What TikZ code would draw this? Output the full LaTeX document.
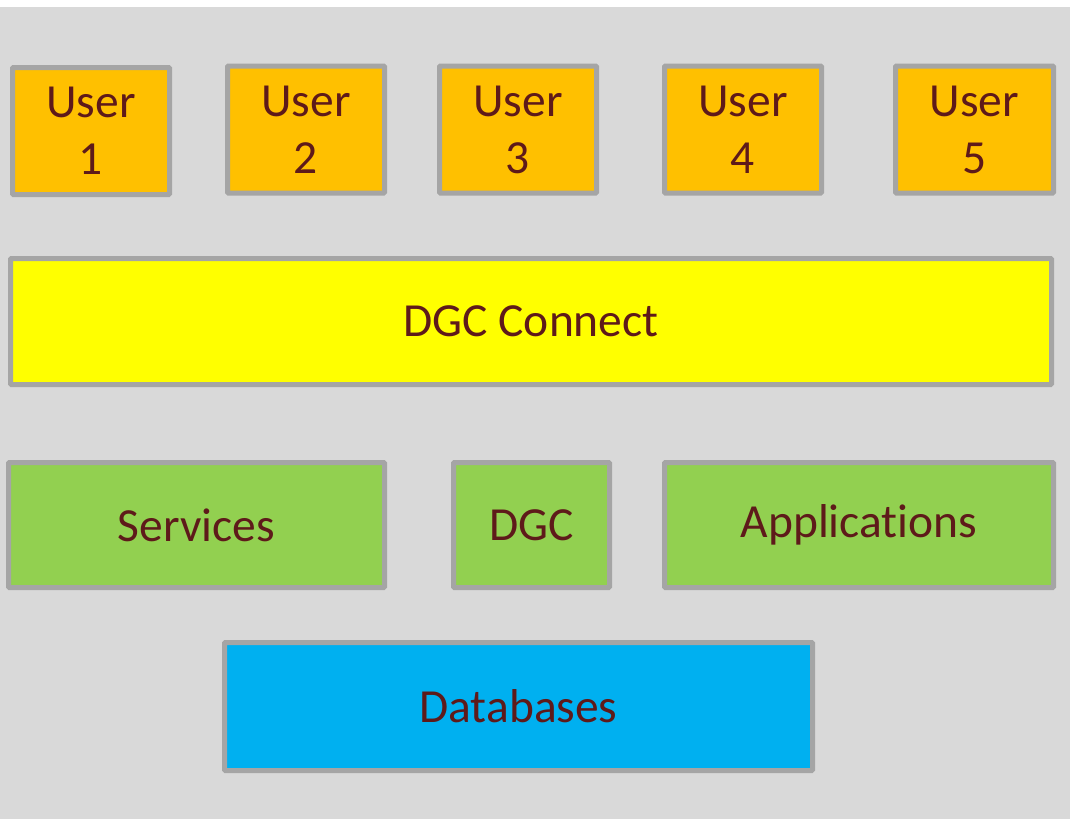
\documentclass[tikz,border=0pt]{standalone}
\usepackage{fontspec}
\setmainfont[Ligatures=NoCommon]{Carlito}
\definecolor{bg}{HTML}{D9D9D9}
\definecolor{edge}{HTML}{A5A5A5}
\definecolor{txt}{HTML}{5E1A1A}
\definecolor{userc}{HTML}{FFC000}
\definecolor{connc}{HTML}{FFFF00}
\definecolor{greenc}{HTML}{92D050}
\definecolor{dbc}{HTML}{00B0F0}
\begin{document}
\begin{tikzpicture}[x=1pt,y=-1pt,
  box/.style={draw=edge, line width=5pt, rounded corners=1pt, inner sep=0pt,
    text=txt, align=center, font=\fontsize{47.5}{57}\selectfont},
  userbox/.style={box, fill=userc, minimum width=157pt, minimum height=127pt},
  connbox/.style={box, fill=connc},
  greenbox/.style={box, fill=greenc},
  dbbox/.style={box, fill=dbc}]
\useasboundingbox (0,0) rectangle (1070,819);
\fill[white] (0,0) rectangle (1070,819);
\fill[bg] (0,7) rectangle (1070,819);
\node[userbox] (u1) at (91,131) {User\\1};
\node[userbox] (u2) at (306,129.5) {User\\2};
\node[userbox] (u3) at (518,129.5) {User\\3};
\node[userbox] (u4) at (743,129.5) {User\\4};
\node[userbox, minimum width=158pt] (u5) at (974.5,129.5) {User\\5};
\node[connbox, minimum width=1041pt, minimum height=126pt] (conn) at (531,321.5) {DGC Connect};
\node[greenbox, minimum width=376pt, minimum height=125pt] (svc) at (196.5,525) {Services};
\node[greenbox, minimum width=156pt, minimum height=125pt] (dgc) at (531.5,525) {DGC};
\node[greenbox, minimum width=389pt, minimum height=125pt] (app) at (859,525) {Applications};
\node[dbbox, minimum width=588pt, minimum height=128pt] (db) at (518.5,706.5) {Databases};
\end{tikzpicture}
\end{document}
